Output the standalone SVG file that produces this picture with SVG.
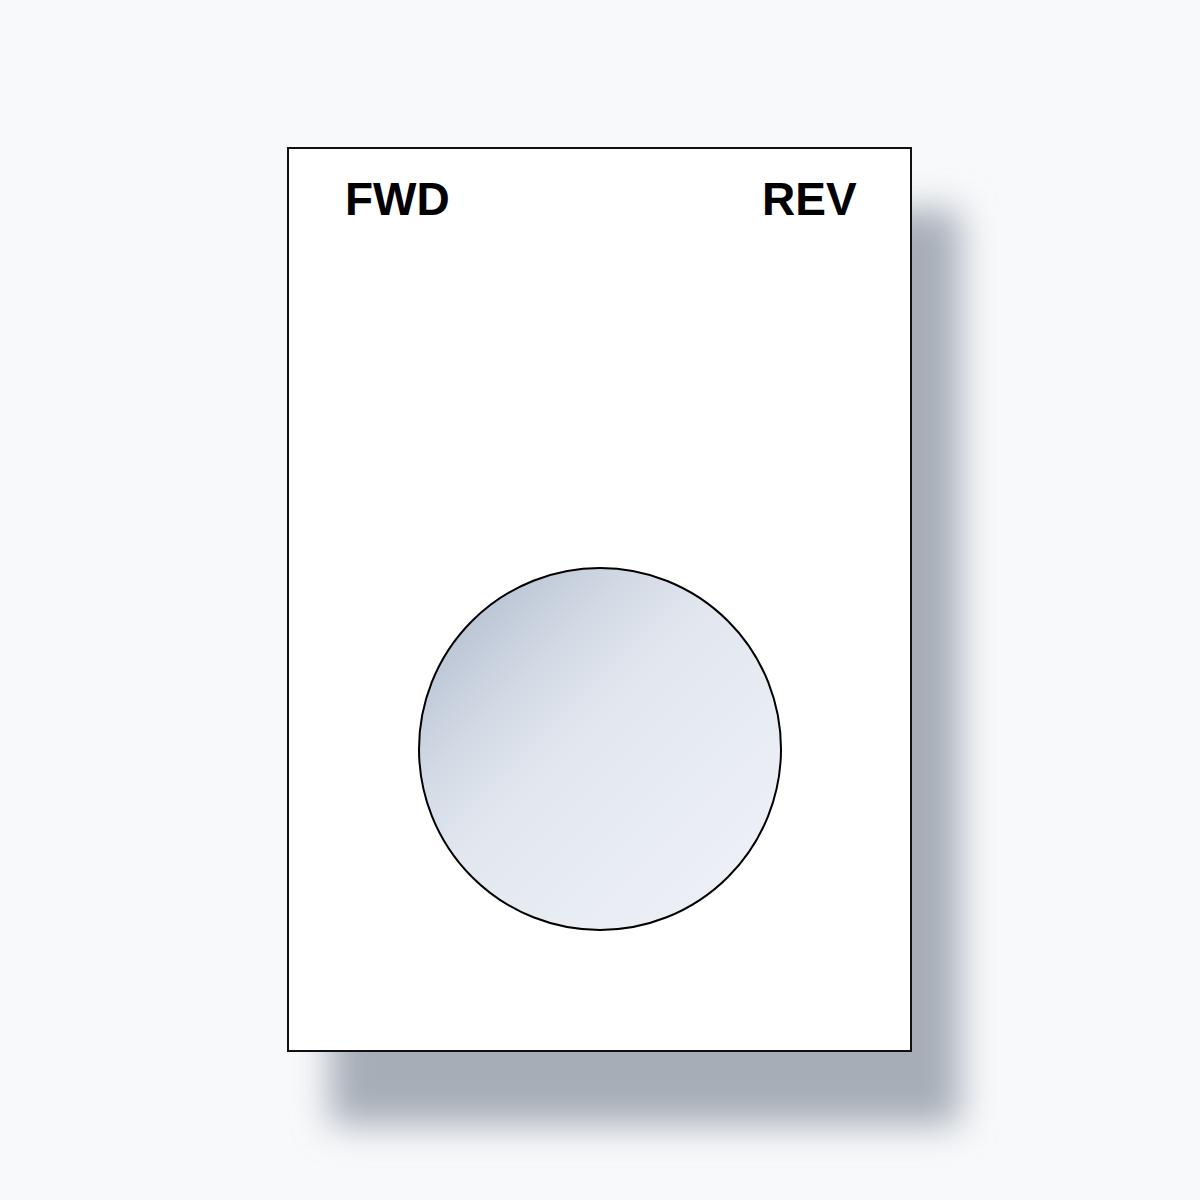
<svg xmlns="http://www.w3.org/2000/svg" width="1200" height="1200" viewBox="0 0 1200 1200">
  <style>
    .label { font-family: "Liberation Sans", Arial, sans-serif; font-weight: bold; font-size: 46px; fill: #000; }
    .plate { fill: #ffffff; stroke: #111; stroke-width: 2; }
    .button { fill: url(#btnGrad); stroke: #000; stroke-width: 2; }
  </style>
  <defs>
    <filter id="shadowBlur" x="-20%" y="-20%" width="140%" height="140%">
      <feGaussianBlur stdDeviation="18"/>
    </filter>
    <linearGradient id="btnGrad" x1="0" y1="0" x2="1" y2="1">
      <stop offset="0" stop-color="#a7b3c7"/>
      <stop offset="0.3" stop-color="#d3dae5"/>
      <stop offset="0.45" stop-color="#e2e7ef"/>
      <stop offset="1" stop-color="#f0f3f8"/>
    </linearGradient>
  </defs>
  <rect x="0" y="0" width="1200" height="1200" fill="#f8f9fb"/>
  <g id="plate">
    <rect x="330" y="210" width="630" height="915" fill="#a6adb7" filter="url(#shadowBlur)"/>
    <rect class="plate" x="288" y="148" width="623" height="903"/>
  </g>
  <g id="fwd-label">
    <text class="label" x="345" y="215">FWD</text>
  </g>
  <g id="rev-label">
    <text class="label" x="762" y="215">REV</text>
  </g>
  <g id="button">
    <circle class="button" cx="600" cy="749" r="181"/>
  </g>
  <g id="connectors"/>
</svg>
